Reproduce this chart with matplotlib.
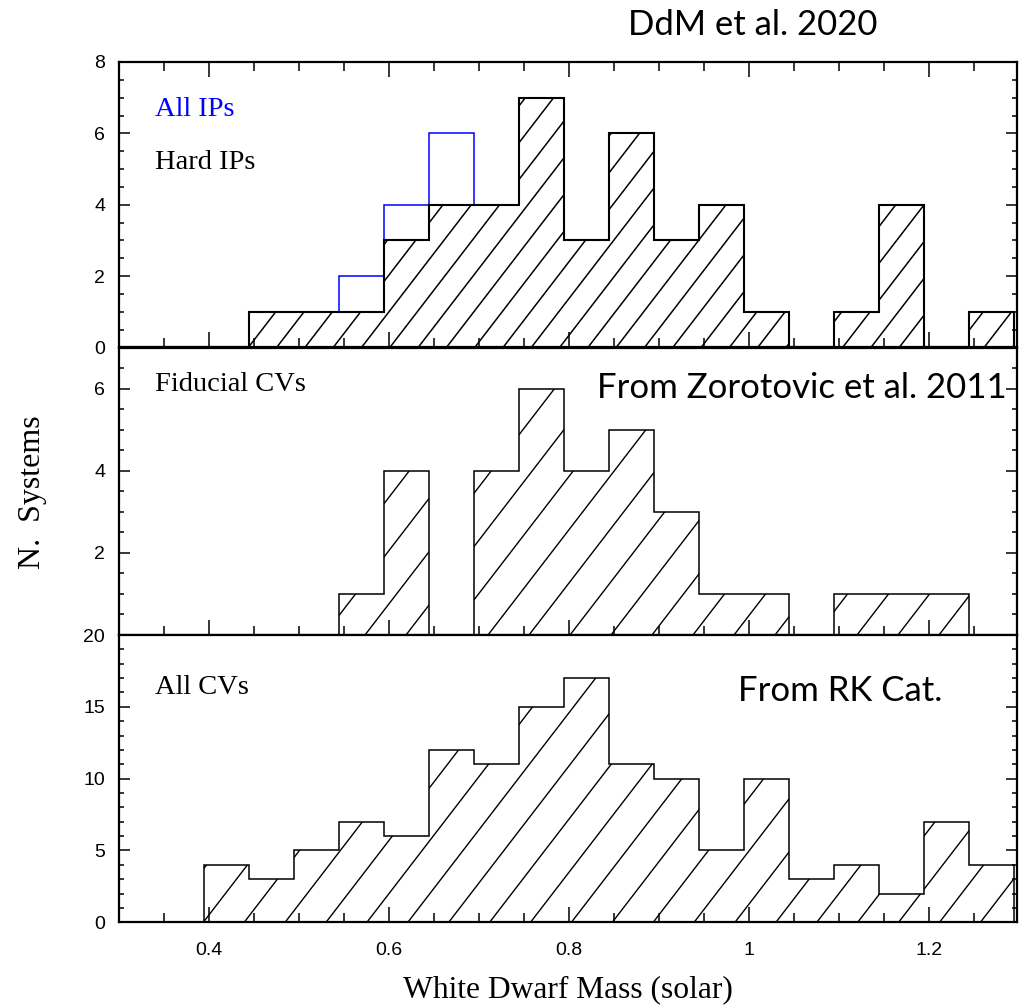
import numpy as np
import matplotlib
matplotlib.use("Agg")
import matplotlib.pyplot as plt
from matplotlib.collections import LineCollection
from matplotlib.ticker import MultipleLocator, FixedLocator, NullFormatter

# White-dwarf mass bins (solar masses): 20 bins of width 0.05
bin_start = 0.2944
bin_width = 0.05
bin_edges = bin_start + bin_width * np.arange(21)

# Counts per bin, first bin ... last bin
all_ips = [0, 0, 0, 1, 1, 2, 4, 6, 4, 7, 3, 6, 3, 4, 1, 0, 1, 4, 0, 1]
hard_ips = [0, 0, 0, 1, 1, 1, 3, 4, 4, 7, 3, 6, 3, 4, 1, 0, 1, 4, 0, 1]
fiducial_cvs = [0, 0, 0, 0, 0, 1, 4, 0, 4, 6, 4, 5, 3, 1, 1, 0, 1, 1, 1, 0]
all_cvs = [0, 0, 4, 3, 5, 7, 6, 12, 11, 15, 17, 11, 10, 5, 10, 3, 4, 2, 7, 4]

x_major = [0.4, 0.6, 0.8, 1.0, 1.2]
x_major_labels = ["0.4", "0.6", "0.8", "1", "1.2"]

SERIF = ["Liberation Serif", "DejaVu Serif"]
SANS = ["Liberation Sans", "DejaVu Sans"]
NOTE = ["Lato", "Open Sans", "DejaVu Sans"]

W_PX, H_PX, DPI = 1028, 1005, 100
fig = plt.figure(figsize=(W_PX / DPI, H_PX / DPI), dpi=DPI)


def px_axes(left, top, right, bottom):
    return fig.add_axes([left / W_PX, 1 - bottom / H_PX,
                         (right - left) / W_PX, (bottom - top) / H_PX])


ax_top = px_axes(119, 62, 1017, 347.5)
ax_mid = px_axes(119, 347.5, 1017, 635)
ax_bot = px_axes(119, 635, 1017, 922.3)


def add_hatch(ax, patch, spacing_px, slope, phase_px, lw):
    """Diagonal hatch lines (pixel spacing/slope) clipped to a histogram."""
    pos = ax.get_position()
    w = pos.width * W_PX
    h = pos.height * H_PX
    run = h / slope
    k0 = int(np.floor((-run - phase_px) / spacing_px)) - 1
    k1 = int(np.ceil((w - phase_px) / spacing_px)) + 1
    segs = []
    for k in range(k0, k1 + 1):
        x0 = (phase_px + k * spacing_px) / w
        segs.append([(x0, 0.0), (x0 + run / w, 1.0)])
    lc = LineCollection(segs, colors="black", linewidths=lw,
                        transform=ax.transAxes, zorder=1.5)
    ax.add_collection(lc, autolim=False)
    lc.set_clip_path(patch)


def style_axis(ax, ylim, y_major, y_minor, top_ticks):
    ax.set_xlim(0.3, 1.298)
    ax.set_ylim(*ylim)
    ax.xaxis.set_major_locator(FixedLocator(x_major))
    ax.xaxis.set_minor_locator(MultipleLocator(0.05))
    ax.yaxis.set_major_locator(MultipleLocator(y_major))
    ax.yaxis.set_minor_locator(MultipleLocator(y_minor))
    ax.tick_params(which="both", direction="in", left=True, right=True,
                   bottom=True, top=top_ticks, width=1.1, color="black")
    ax.tick_params(axis="x", which="major", length=10.8)
    ax.tick_params(axis="x", which="minor", length=6.5)
    ax.tick_params(axis="y", which="major", length=8)
    ax.tick_params(axis="y", which="minor", length=3.6)
    ax.tick_params(axis="y", labelsize=14, pad=10)
    ax.tick_params(axis="x", labelsize=14, pad=14)
    for lab in ax.get_xticklabels() + ax.get_yticklabels():
        lab.set_family(SANS)
    for sp in ax.spines.values():
        sp.set_linewidth(1.6)


# --- IPs panel ---
ax_top.stairs(all_ips, bin_edges, baseline=0, fill=False,
              edgecolor="#0000ff", linewidth=1.1, zorder=2)
p_hard = ax_top.stairs(hard_ips, bin_edges, baseline=0, fill=True,
                       facecolor="none", edgecolor="black", linewidth=1.5,
                       zorder=3)
add_hatch(ax_top, p_hard, 28.3, 1.3, 16.1, 1.1)
style_axis(ax_top, (0, 8), 2, 0.5, True)
ax_top.xaxis.set_major_formatter(NullFormatter())

# --- Fiducial CVs panel ---
p_fid = ax_mid.stairs(fiducial_cvs, bin_edges, baseline=0, fill=True,
                      facecolor="none", edgecolor="black", linewidth=1.1,
                      zorder=3)
add_hatch(ax_mid, p_fid, 41.0, 1.3, 0.0, 1.0)
style_axis(ax_mid, (0, 7), 2, 0.5, False)
ax_mid.yaxis.set_major_locator(FixedLocator([2, 4, 6]))
ax_mid.xaxis.set_major_formatter(NullFormatter())

# --- All CVs panel ---
p_all = ax_bot.stairs(all_cvs, bin_edges, baseline=0, fill=True,
                      facecolor="none", edgecolor="black", linewidth=1.1,
                      zorder=3)
add_hatch(ax_bot, p_all, 40.9, 1.3, 2.5, 1.0)
style_axis(ax_bot, (0, 20), 5, 1, False)
ax_bot.set_xticklabels(x_major_labels)
for lab in ax_bot.get_xticklabels():
    lab.set_family(SANS)


# Panel labels
def fig_text(x, y, s, **kw):
    fig.text(x / W_PX, 1 - y / H_PX, s, **kw)


fig_text(155, 116, "All IPs", family=SERIF, fontsize=20.5, color="#0000ff",
         ha="left", va="baseline")
fig_text(155, 169, "Hard IPs", family=SERIF, fontsize=20.5, color="black",
         ha="left", va="baseline")
fig_text(155, 391, "Fiducial CVs", family=SERIF, fontsize=20.5,
         color="black", ha="left", va="baseline")
fig_text(155, 694, "All CVs", family=SERIF, fontsize=20.5, color="black",
         ha="left", va="baseline")

fig_text(568, 997, "White Dwarf Mass (solar)", family=SERIF, fontsize=22.7,
         ha="center", va="baseline")
fig_text(33, 492, "N.  Systems", family=SERIF, fontsize=23, rotation=90,
         ha="center", va="center")

fig_text(628, 35, "DdM et al. 2020", family=NOTE, fontsize=25,
         ha="left", va="baseline")
fig_text(597, 398, "From Zorotovic et al. 2011", family=NOTE, fontsize=25,
         ha="left", va="baseline")
fig_text(738, 701, "From RK Cat.", family=NOTE, fontsize=25,
         ha="left", va="baseline")

fig.savefig("out.png", dpi=DPI)
